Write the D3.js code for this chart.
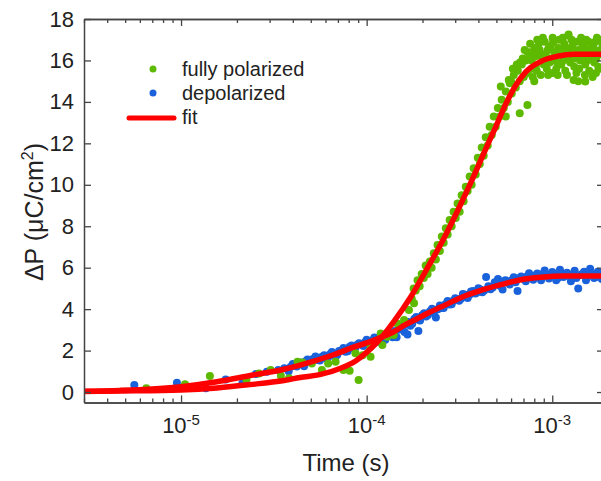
<!DOCTYPE html>
<html>
<head>
<meta charset="utf-8">
<script src="https://cdn.jsdelivr.net/npm/d3@7/dist/d3.min.js"></script>
<style>
  body { margin: 0; background: #fff; }
  text { font-family: Arial, "Liberation Sans", sans-serif; fill: #222; }
</style>
</head>
<body>
<svg width="601" height="481" id="mainsvg"></svg>
<script>
// measured points [time (s), dP (uC/cm2)]
const fullyPolarized = [
  [6.5e-6,0.18],[1.05e-5,0.37],[1.43e-5,0.77],[2.25e-5,0.61],[2.63e-5,0.9],[3.04e-5,1.06],[3.45e-5,0.79],
  [3.82e-5,0.66],[4.24e-5,1.46],[4.5e-5,1.43],
  [5.07e-5,1.38],[5.74e-5,1.06],[6.2e-5,1.38],[6.8e-5,1.46],[7.5e-5,1.06],[8.1e-5,1.03],[9.05e-5,0.58],
  [8.7e-5,1.87],[9.5e-5,1.78],[1.05e-4,1.7],[1.05e-4,2.19],[1.19e-4,2.83],[1.215e-4,2.27],[1.29e-4,2.67],
  [1.4e-4,2.75],[1.46e-4,3.31],[1.59e-4,3.47],[1.69e-4,3.96],[1.8e-4,4.28],
  [1.75e-4,4.5],[1.79e-4,5.0],[1.84e-4,4.9],[1.88e-4,5.4],[1.93e-4,5.1],[1.98e-4,5.7],[2.03e-4,5.5],
  [2.08e-4,6.1],[2.13e-4,5.7],[2.19e-4,6.3],[2.24e-4,6.0],[2.3e-4,6.7],[2.36e-4,6.4],[2.41e-4,7.1],
  [2.48e-4,6.8],[2.54e-4,7.5],[2.6e-4,7.2],[2.67e-4,7.9],[2.73e-4,7.6],[2.8e-4,8.3],[2.87e-4,8.0],
  [2.94e-4,8.7],[3.02e-4,8.4],[3.09e-4,9.1],[3.17e-4,8.7],[3.25e-4,9.5],[3.33e-4,9.2],[3.42e-4,9.9],
  [3.5e-4,9.7],[3.59e-4,10.4],[3.68e-4,10.0],[3.77e-4,10.8],[3.87e-4,10.5],[3.97e-4,11.3],[4.07e-4,11.0],
  [4.17e-4,11.8],[4.27e-4,11.4],[4.38e-4,12.3],[4.49e-4,11.9],[4.6e-4,12.8],[4.72e-4,12.4],[4.84e-4,13.3],
  [4.96e-4,12.8],[5.09e-4,13.7],[5.21e-4,13.3],[5.34e-4,14.1],[5.48e-4,13.7],[5.62e-4,14.5],[5.76e-4,14.0],
  [5.9e-4,14.9],[6.05e-4,14.4],[6.2e-4,15.3],[6.36e-4,14.7],[6.52e-4,15.5],[6.68e-4,15.0],[6.85e-4,15.8],
  [7.02e-4,15.2],[7.2e-4,16.0],[7.38e-4,15.4],[7.56e-4,16.1],[7.75e-4,15.6],[7.95e-4,16.3],[8.15e-4,15.7],
  [5.28e-4,14.74],[5.83e-4,15.06],[7.35e-4,13.85],[6.68e-4,13.45],[5.62e-4,13.3],[1.303e-3,15.06],
  [1.506e-3,14.98],[1.381e-3,15.0],[1.224e-3,17.25],[1.016e-3,16.9],[6.44e-4,15.8],[6.93e-4,16.1],
  [7.38e-4,16.4],[6.13e-4,15.6],[6.0e-4,15.0],[6.7e-4,15.9],[7.1e-4,16.5],[7.6e-4,16.8],[8.0e-4,15.0],
  [7.66e-4,16.4],[7.85e-4,15.2],[8.05e-4,16.6],[8.25e-4,15.5],[8.46e-4,16.8],[8.67e-4,15.3],[8.78e-4,16.2],
  [9.0e-4,15.8],[9.11e-4,16.9],[9.34e-4,15.6],[9.46e-4,16.5],[9.69e-4,15.9],[9.81e-4,16.7],[1.0e-3,15.4],
  [1.012e-3,16.9],[1.038e-3,16.0],[1.051e-3,15.6],[1.077e-3,16.6],[1.091e-3,17.0],[1.118e-3,15.8],
  [1.132e-3,16.3],[1.161e-3,16.8],[1.175e-3,15.5],[1.205e-3,16.1],[1.22e-3,17.2],[1.25e-3,15.9],
  [1.266e-3,16.6],[1.298e-3,16.2],[1.314e-3,15.7],[1.347e-3,16.9],[1.364e-3,16.4],[1.398e-3,15.6],
  [1.415e-3,16.0],[1.451e-3,16.8],[1.469e-3,16.3],[1.506e-3,15.8],[1.524e-3,17.0],[1.563e-3,16.1],
  [1.582e-3,15.5],[1.622e-3,16.6],[1.642e-3,16.2],[1.684e-3,15.9],[1.705e-3,16.9],[1.748e-3,16.4],
  [1.77e-3,15.7],[1.815e-3,16.5],[1.79e-3,17.0],[1.72e-3,15.4],
  [7.75e-4,16.0],[8.15e-4,16.2],[8.56e-4,16.5],[8.89e-4,15.9],[9.22e-4,16.3],[9.57e-4,16.6],[9.94e-4,16.1],
  [1.025e-3,16.4],[1.064e-3,15.9],[1.104e-3,16.5],[1.146e-3,16.0],[1.19e-3,16.6],[1.235e-3,16.3],
  [1.282e-3,16.7],[1.33e-3,16.1],[1.381e-3,16.5],[1.433e-3,16.2],[1.488e-3,16.6],[1.544e-3,16.0],
  [1.603e-3,16.4],[1.664e-3,16.7],[1.727e-3,16.1],[1.792e-3,16.3],
  [8.3e-4,17.0],[8.9e-4,17.1],[9.5e-4,15.3],[1.005e-3,17.1],[1.07e-3,15.3],[1.14e-3,17.1],[1.2e-3,15.3],
  [1.27e-3,17.0],[1.35e-3,15.4],[1.43e-3,17.1],[1.5e-3,15.3],[1.57e-3,16.9],[1.65e-3,15.2],[1.74e-3,17.1],
  [1.83e-3,15.6],[1.86e-3,16.8]
];

const depolarized = [
  [5.6e-6,0.34],[9.5e-6,0.45],[1.36e-5,0.18],[1.74e-5,0.61],[2.14e-5,0.42],[2.53e-5,0.87],[2.9e-5,0.98],
  [3.34e-5,1.06],
  [3.6e-5,1.15],[3.8e-5,1.0],[4.0e-5,1.35],[4.2e-5,1.23],[4.4e-5,1.43],[4.6e-5,1.25],[4.8e-5,1.57],
  [5.0e-5,1.45],[5.3e-5,1.71],[5.6e-5,1.52],[5.9e-5,1.78],[6.2e-5,1.68],[6.5e-5,1.93],[6.8e-5,1.71],
  [7.1e-5,1.98],[7.5e-5,2.12],[7.9e-5,1.97],[8.3e-5,2.25],[8.7e-5,2.15],[9.1e-5,2.35],[9.6e-5,2.22],
  [1.0e-4,2.52],[1.05e-4,2.39],[1.1e-4,2.63],[1.15e-4,2.43],[1.2e-4,2.69],[1.26e-4,2.52],[1.32e-4,2.9],
  [1.38e-4,2.64],[1.45e-4,2.64],[1.52e-4,3.19],[1.6e-4,2.9],[1.66e-4,2.78],[1.68e-4,3.38],[1.76e-4,3.3],
  [1.85e-4,3.62],[1.9e-4,2.95],[1.94e-4,3.45],[2.04e-4,3.8],[2.14e-4,3.72],[2.25e-4,4.02],[2.36e-4,3.6],
  [2.48e-4,4.18],[2.6e-4,4.06],[2.73e-4,4.39],[2.87e-4,4.24],[3.0e-4,4.52],[3.15e-4,4.4],[3.3e-4,4.73],
  [3.5e-4,4.54],[3.65e-4,4.85],[3.85e-4,4.75],[4.0e-4,5.01],[4.2e-4,4.82],[4.4e-4,5.55],[4.65e-4,4.96],
  [4.9e-4,5.3],[5.1e-4,5.45],[5.4e-4,4.95],[5.6e-4,5.39],[5.9e-4,5.19],[6.2e-4,5.54],[6.5e-4,4.88],
  [6.8e-4,5.57],[7.2e-4,5.34],[7.5e-4,5.73],[7.9e-4,5.42],[8.3e-4,5.72],[8.7e-4,5.39],[9.1e-4,5.86],
  [9.6e-4,5.48],[1.0e-3,5.79],[1.05e-3,5.4],[1.1e-3,5.9],[1.15e-3,5.55],[1.2e-3,5.75],[1.26e-3,5.35],
  [1.32e-3,5.85],[1.38e-3,5.0],[1.45e-3,5.7],[1.52e-3,5.4],[1.6e-3,5.95],[1.68e-3,5.5],[1.76e-3,5.8],
  [1.85e-3,5.45],
  [3.9e-5,1.22],[4.3e-5,1.36],[4.7e-5,1.48],[5.1e-5,1.58],[5.45e-5,1.55],[5.75e-5,1.7],[6.05e-5,1.62],
  [6.35e-5,1.82],[6.65e-5,1.86],[6.95e-5,1.8],[7.3e-5,2.0],[7.7e-5,1.95],[8.1e-5,2.18],[8.5e-5,2.1],
  [8.9e-5,2.28],[9.35e-5,2.3],[9.8e-5,2.4],[1.025e-4,2.35],[1.075e-4,2.5],[1.125e-4,2.6],[1.175e-4,2.52],
  [1.23e-4,2.75],[1.29e-4,2.7],[1.35e-4,2.82],[1.415e-4,2.95],[1.485e-4,3.0],[1.56e-4,3.05],[1.64e-4,3.28],
  [1.72e-4,3.2],[1.805e-4,3.52],[1.895e-4,3.5],[1.99e-4,3.7],[2.09e-4,3.65],[2.195e-4,3.9],[2.305e-4,3.85],
  [2.42e-4,4.0],[2.54e-4,4.05],[2.665e-4,4.25],[2.8e-4,4.22],[2.935e-4,4.4],[3.075e-4,4.48],[3.225e-4,4.5],
  [3.4e-4,4.7],[3.575e-4,4.68],[3.75e-4,4.88],[3.925e-4,4.8],[4.1e-4,4.95],[4.3e-4,4.9],[4.525e-4,5.1],
  [4.775e-4,5.05],[5.0e-4,5.2],[5.25e-4,5.12],[5.5e-4,5.35],[5.75e-4,5.3],[6.05e-4,5.4],[6.35e-4,5.3],
  [6.65e-4,5.5],[7.0e-4,5.45],[7.35e-4,5.6],[7.7e-4,5.52],[8.1e-4,5.62],[8.5e-4,5.6],[8.9e-4,5.7],
  [9.35e-4,5.65],[9.8e-4,5.62],[1.025e-3,5.7],[1.075e-3,5.5],[1.125e-3,5.72],[1.175e-3,5.65],[1.23e-3,5.6],
  [1.29e-3,5.68],[1.35e-3,5.5],[1.415e-3,5.65],[1.485e-3,5.8],[1.56e-3,5.6],[1.64e-3,5.68],[1.72e-3,5.55],
  [1.8e-3,5.75]
];

// fit curves
const fitPolarized = [
  [3e-6,0.03],[4.69e-6,0.05],[1e-5,0.1],[1.56e-5,0.2],[2.36e-5,0.36],[3.59e-5,0.56],[4.38e-5,0.7],
  [5.65e-5,0.85],[7.24e-5,1.15],[8.72e-5,1.5],[1.01e-4,1.95],[1.205e-4,2.65],[1.4e-4,3.4],[1.73e-4,4.6],
  [2.13e-4,6.0],[2.6e-4,7.4],[3.09e-4,8.75],[3.64e-4,10.1],[4.27e-4,11.5],[4.96e-4,12.8],[5.62e-4,13.9],
  [6.36e-4,14.8],[7.2e-4,15.45],[8.67e-4,15.95],[1.064e-3,16.2],[1.298e-3,16.3],[1.9e-3,16.3]
];
const fitDepolarized = [
  [3e-6,0.04],[4.69e-6,0.08],[1e-5,0.26],[1.56e-5,0.5],[2.36e-5,0.8],[3.59e-5,1.1],[4.38e-5,1.3],
  [6.64e-5,1.8],[8.72e-5,2.2],[1.01e-4,2.38],[1.205e-4,2.65],[1.4e-4,2.91],[1.62e-4,3.25],[1.84e-4,3.5],
  [2.13e-4,3.8],[2.51e-4,4.1],[3.21e-4,4.55],[4.12e-4,4.9],[5.28e-4,5.18],[6.77e-4,5.42],[8.67e-4,5.54],
  [1.153e-3,5.6],[1.9e-3,5.6]
];

const yTicks = [0, 2, 4, 6, 8, 10, 12, 14, 16, 18];
const xMajor = [1e-5, 1e-4, 1e-3];
const xExponents = ["-5", "-4", "-3"];
const legendLabels = ["fully polarized", "depolarized", "fit"];

const green = "#5eba00", blue = "#1a62dc", red = "#ff0000", axisColor = "#444";

let mainsvg = d3.select("#mainsvg");
const plotLeft = 84, plotRight = 604, plotTop = 19, plotBottom = 402.4;

let x = d3.scaleLog().domain([3e-6, 1.9e-3]).range([plotLeft, plotRight]);
let y = d3.scaleLinear().domain([-0.5, 18]).range([plotBottom, plotTop]);

mainsvg.append("defs").append("clipPath").attr("id", "plotclip")
  .append("rect").attr("x", plotLeft).attr("y", plotTop)
  .attr("width", plotRight - plotLeft).attr("height", plotBottom - plotTop);

let plot = mainsvg.append("g").attr("clip-path", "url(#plotclip)");

plot.selectAll(".blue").data(depolarized).join("circle")
  .attr("class", "blue")
  .attr("cx", d => x(d[0])).attr("cy", d => y(d[1])).attr("r", 4)
  .style("fill", blue);

plot.selectAll(".green").data(fullyPolarized).join("circle")
  .attr("class", "green")
  .attr("cx", d => x(d[0])).attr("cy", d => y(d[1])).attr("r", 4)
  .style("fill", green);

let line = d3.line().x(d => x(d[0])).y(d => y(d[1])).curve(d3.curveMonotoneX);
[fitDepolarized, fitPolarized].forEach(f => {
  plot.append("path").attr("d", line(f))
    .style("fill", "none").style("stroke", red).style("stroke-width", 5.5)
    .style("stroke-linecap", "round");
});

// axes, ticks pointing inward
let minor = x.ticks().filter(t => !xMajor.some(m => Math.abs(m - t) / m < 1e-6));

function styleAxis(g) {
  g.selectAll("path.domain").style("stroke", axisColor).style("stroke-width", 1.5);
  g.selectAll(".tick line").style("stroke", axisColor).style("stroke-width", 1.3);
  g.selectAll(".tick text").remove();
}

mainsvg.append("g").attr("transform", `translate(0,${plotBottom})`)
  .call(d3.axisBottom(x).tickValues(minor).tickSize(-4).tickSizeOuter(0).tickFormat(""))
  .call(styleAxis);
mainsvg.append("g").attr("transform", `translate(0,${plotBottom})`)
  .call(d3.axisBottom(x).tickValues(xMajor).tickSize(-7).tickSizeOuter(0).tickFormat(""))
  .call(styleAxis);
mainsvg.append("g").attr("transform", `translate(0,${plotTop})`)
  .call(d3.axisTop(x).tickValues(minor).tickSize(-4).tickSizeOuter(0).tickFormat(""))
  .call(styleAxis);
mainsvg.append("g").attr("transform", `translate(0,${plotTop})`)
  .call(d3.axisTop(x).tickValues(xMajor).tickSize(-7).tickSizeOuter(0).tickFormat(""))
  .call(styleAxis);
mainsvg.append("g").attr("transform", `translate(${plotRight},0)`)
  .call(d3.axisRight(y).tickValues(yTicks).tickSize(-7).tickSizeOuter(0).tickFormat(""))
  .call(styleAxis);

let yAxis = mainsvg.append("g").attr("transform", `translate(${plotLeft},0)`)
  .call(d3.axisLeft(y).tickValues(yTicks).tickSize(-7).tickSizeOuter(0).tickPadding(10));
yAxis.selectAll("path.domain").style("stroke", axisColor).style("stroke-width", 1.5);
yAxis.selectAll(".tick line").style("stroke", axisColor).style("stroke-width", 1.3);
yAxis.selectAll(".tick text").style("font-size", "22px").style("fill", "#222")
  .style("font-family", "Arial, 'Liberation Sans', sans-serif");

// x tick labels 10^n
xMajor.forEach((v, i) => {
  let t = mainsvg.append("text").attr("x", x(v)).attr("y", 433)
    .attr("text-anchor", "middle").style("font-size", "22px");
  t.append("tspan").text("10");
  t.append("tspan").attr("dy", -8).style("font-size", "15px").text(xExponents[i]);
});

// axis titles
mainsvg.append("text").attr("x", 346).attr("y", 471).attr("text-anchor", "middle")
  .style("font-size", "24px").text("Time (s)");

let yt = mainsvg.append("text").attr("transform", "translate(43,212) rotate(-90)")
  .attr("text-anchor", "middle").style("font-size", "25px");
yt.append("tspan").text("ΔP (μC/cm");
yt.append("tspan").attr("dy", -10).style("font-size", "16px").text("2");
yt.append("tspan").attr("dy", 10).text(")");

// legend
let legend = mainsvg.append("g");
legend.append("circle").attr("cx", 153).attr("cy", 69).attr("r", 3.5).style("fill", green);
legend.append("circle").attr("cx", 153).attr("cy", 93).attr("r", 3.5).style("fill", blue);
legend.append("line").attr("x1", 129).attr("x2", 174).attr("y1", 118).attr("y2", 118)
  .style("stroke", red).style("stroke-width", 5).style("stroke-linecap", "round");
legendLabels.forEach((s, i) => {
  legend.append("text").attr("x", 182).attr("y", 76 + i * 24).style("font-size", "20px").text(s);
});
</script>
</body>
</html>
